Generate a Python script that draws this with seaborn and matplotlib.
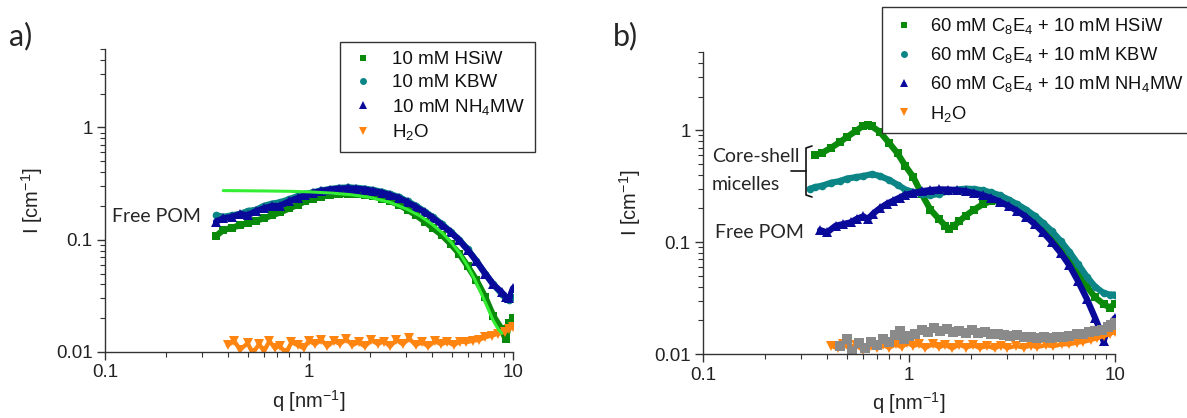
import numpy as np
import pandas as pd
import matplotlib
matplotlib.use("Agg")
import matplotlib.pyplot as plt
from matplotlib.lines import Line2D
import seaborn as sns

# ---------------- data ----------------
# Panel a
qa = [0.35, 0.38, 0.42, 0.46, 0.5, 0.55, 0.6, 0.66, 0.72, 0.8, 0.88, 0.96, 1.05, 1.15,
      1.27, 1.4, 1.55, 1.7, 1.88, 2.07, 2.28, 2.5, 2.76, 3.04, 3.35, 3.7, 4.07, 4.48,
      4.94, 5.45, 6.0, 6.6, 7.3, 8.0, 8.8, 9.2, 9.6, 10.0]
a_hsiw = [0.108, 0.122, 0.128, 0.135, 0.14, 0.148, 0.155, 0.165, 0.175, 0.19, 0.205, 0.22,
          0.232, 0.242, 0.25, 0.254, 0.256, 0.255, 0.25, 0.243, 0.232, 0.22, 0.205, 0.185,
          0.165, 0.145, 0.126, 0.11, 0.092, 0.075, 0.058, 0.044, 0.031, 0.021, 0.016,
          0.013, 0.018, 0.02]
a_kbw = [0.165, 0.16, 0.165, 0.17, 0.18, 0.185, 0.2, 0.21, 0.215, 0.23, 0.245, 0.255,
         0.265, 0.275, 0.283, 0.29, 0.292, 0.29, 0.285, 0.277, 0.267, 0.255, 0.24, 0.22,
         0.2, 0.178, 0.158, 0.138, 0.118, 0.1, 0.082, 0.065, 0.05, 0.04, 0.033, 0.03,
         0.029, 0.031]
a_nh4mw = [0.145, 0.155, 0.16, 0.17, 0.165, 0.18, 0.19, 0.2, 0.2, 0.22, 0.235, 0.25,
           0.262, 0.272, 0.28, 0.285, 0.287, 0.285, 0.28, 0.272, 0.262, 0.25, 0.235,
           0.215, 0.195, 0.175, 0.155, 0.135, 0.117, 0.099, 0.081, 0.065, 0.05, 0.04,
           0.034, 0.031, 0.03, 0.037]
qa_fit = [0.38, 0.6, 0.8, 1.0, 1.3, 1.6, 2.0, 2.5, 3.0, 3.5, 4.0, 4.5, 5.0, 5.5, 6.0, 6.5,
          7.0, 7.5, 8.0, 8.5, 8.8]
a_fit = [0.274, 0.272, 0.27, 0.267, 0.26, 0.252, 0.238, 0.215, 0.188, 0.163, 0.138, 0.115,
         0.094, 0.075, 0.058, 0.044, 0.033, 0.025, 0.019, 0.0158, 0.0147]
qa_h2o = [0.4, 0.43, 0.46, 0.5, 0.53, 0.57, 0.6, 0.64, 0.68, 0.72, 0.77, 0.82, 0.88, 0.94,
          1.0, 1.07, 1.15, 1.23, 1.32, 1.42, 1.52, 1.63, 1.75, 1.88, 2.02, 2.17, 2.33, 2.5,
          2.68, 2.88, 3.1, 3.33, 3.58, 3.85, 4.13, 4.44, 4.77, 5.13, 5.5, 5.9, 6.35, 6.8,
          7.3, 7.85, 8.45, 9.1, 9.6, 10.0]
a_h2o = [0.0115, 0.0125, 0.0105, 0.012, 0.0098, 0.0118, 0.0102, 0.0125, 0.0108, 0.0113,
         0.0098, 0.0122, 0.0115, 0.0108, 0.0126, 0.0117, 0.0128, 0.0112, 0.0125, 0.0118,
         0.013, 0.0115, 0.0122, 0.0112, 0.0127, 0.0118, 0.0124, 0.0112, 0.0128, 0.0117,
         0.0132, 0.0115, 0.0122, 0.0112, 0.0125, 0.0117, 0.0123, 0.0115, 0.0124, 0.0122,
         0.0126, 0.0128, 0.0135, 0.014, 0.0145, 0.0152, 0.016, 0.0168]

# Panel b
qb_hsiw = [0.35, 0.38, 0.42, 0.46, 0.5, 0.55, 0.6, 0.63, 0.66, 0.72, 0.8, 0.88, 0.96, 1.05,
           1.15, 1.27, 1.4, 1.5, 1.57, 1.65, 1.75, 1.88, 2.07, 2.28, 2.5, 2.76, 3.04, 3.35,
           3.7, 4.07, 4.48, 4.94, 5.45, 6.0, 6.6, 7.3, 8.0, 8.8, 9.4, 10.0]
b_hsiw = [0.6, 0.63, 0.7, 0.78, 0.87, 0.98, 1.1, 1.12, 1.08, 0.97, 0.77, 0.62, 0.48, 0.38,
          0.27, 0.195, 0.16, 0.14, 0.132, 0.14, 0.153, 0.172, 0.195, 0.218, 0.232, 0.232,
          0.22, 0.2, 0.18, 0.158, 0.135, 0.11, 0.088, 0.068, 0.052, 0.04, 0.032, 0.028,
          0.026, 0.028]
qb_kbw = [0.33, 0.35, 0.38, 0.42, 0.46, 0.5, 0.55, 0.6, 0.66, 0.72, 0.8, 0.88, 0.96, 1.05,
          1.15, 1.27, 1.4, 1.55, 1.7, 1.88, 2.07, 2.28, 2.5, 2.76, 3.04, 3.35, 3.7, 4.07,
          4.48, 4.94, 5.45, 6.0, 6.6, 7.3, 8.0, 8.8, 9.4, 10.0]
b_kbw = [0.3, 0.31, 0.32, 0.34, 0.35, 0.37, 0.38, 0.39, 0.405, 0.39, 0.36, 0.325, 0.295,
         0.28, 0.27, 0.262, 0.27, 0.285, 0.295, 0.3, 0.298, 0.29, 0.278, 0.262, 0.24, 0.218,
         0.195, 0.172, 0.148, 0.125, 0.102, 0.082, 0.064, 0.049, 0.04, 0.035, 0.034, 0.034]
qb_nh4mw = [0.37, 0.4, 0.44, 0.48, 0.52, 0.56, 0.6, 0.63, 0.67, 0.72, 0.78, 0.84, 0.9, 0.96,
            1.05, 1.15, 1.27, 1.4, 1.55, 1.7, 1.88, 2.07, 2.28, 2.5, 2.76, 3.04, 3.35, 3.7,
            4.07, 4.48, 4.94, 5.45, 6.0, 6.6, 7.3, 8.0, 8.5, 8.8, 9.2, 9.6, 10.0]
b_nh4mw = [0.128, 0.122, 0.14, 0.145, 0.15, 0.162, 0.17, 0.16, 0.18, 0.2, 0.22, 0.235, 0.25,
           0.265, 0.275, 0.285, 0.292, 0.296, 0.295, 0.292, 0.285, 0.275, 0.262, 0.248,
           0.23, 0.21, 0.19, 0.168, 0.145, 0.122, 0.1, 0.08, 0.062, 0.045, 0.031, 0.021,
           0.016, 0.013, 0.017, 0.019, 0.021]
qb_gray = [0.46, 0.5, 0.53, 0.57, 0.61, 0.65, 0.7, 0.75, 0.8, 0.85, 0.9, 0.95, 1.0, 1.07,
           1.15, 1.23, 1.32, 1.42, 1.52, 1.63, 1.75, 1.88, 2.02, 2.17, 2.33, 2.5, 2.7, 2.9,
           3.1, 3.35, 3.6, 3.9, 4.2, 4.5, 4.85, 5.2, 5.6, 6.0, 6.5, 7.0, 7.5, 8.0, 8.6, 9.2,
           9.6, 10.0]
b_gray = [0.0118, 0.0135, 0.0105, 0.0125, 0.0112, 0.0128, 0.012, 0.0135, 0.0128, 0.0148,
          0.016, 0.0135, 0.0145, 0.015, 0.0165, 0.0158, 0.0172, 0.0162, 0.0168, 0.0158,
          0.0162, 0.0155, 0.0165, 0.0155, 0.0158, 0.015, 0.0152, 0.0148, 0.0145, 0.0148,
          0.0142, 0.0143, 0.014, 0.0142, 0.014, 0.0143, 0.0142, 0.0145, 0.015, 0.0152,
          0.0158, 0.016, 0.0165, 0.0175, 0.018, 0.0188]
qb_h2o = [0.42, 0.45, 0.48, 0.52, 0.55, 0.6, 0.65, 0.7, 0.75, 0.8, 0.86, 0.92, 0.98, 1.05,
          1.12, 1.2, 1.3, 1.4, 1.5, 1.62, 1.75, 1.9, 2.05, 2.2, 2.4, 2.6, 2.8, 3.0, 3.3, 3.6,
          3.9, 4.2, 4.6, 5.0, 5.5, 6.0, 6.5, 7.0, 7.6, 8.2, 8.8, 9.4, 10.0]
b_h2o = [0.0118, 0.0112, 0.0122, 0.011, 0.012, 0.0108, 0.0118, 0.0112, 0.012, 0.0113,
         0.0122, 0.0115, 0.0125, 0.0118, 0.0122, 0.0113, 0.0122, 0.0115, 0.012, 0.0112,
         0.0121, 0.0114, 0.012, 0.0113, 0.0118, 0.0112, 0.0119, 0.0113, 0.0118, 0.0114,
         0.0119, 0.0115, 0.012, 0.0117, 0.0122, 0.0122, 0.0126, 0.0128, 0.0133, 0.0138,
         0.0145, 0.015, 0.0158]

labels_a = ["10 mM HSiW", "10 mM KBW", r"10 mM NH$_4$MW", r"H$_2$O"]
labels_b = [r"60 mM C$_8$E$_4$ + 10 mM HSiW", r"60 mM C$_8$E$_4$ + 10 mM KBW",
            r"60 mM C$_8$E$_4$ + 10 mM NH$_4$MW", r"H$_2$O"]
xticks = [0.1, 1, 10]
xtick_labels = ["0.1", "1", "10"]
yticks = [0.01, 0.1, 1]
ytick_labels = ["0.01", "0.1", "1"]

# ---------------- style ----------------
sns.set_theme(style="white")
plt.rcParams["font.family"] = ["Liberation Sans", "DejaVu Sans"]
plt.rcParams["mathtext.fontset"] = "custom"
plt.rcParams["mathtext.rm"] = "Liberation Sans"
plt.rcParams["mathtext.it"] = "Liberation Sans:italic"
plt.rcParams["mathtext.default"] = "regular"

GREEN = "#0a8a0a"
TEAL = "#0b8585"
BLUE = "#0a0a9a"
ORANGE = "#ff8410"
GRAY = "#8a8a8a"
LIME = "#33ee33"
SPINE = "#333333"

fig = plt.figure(figsize=(11.87, 4.18), dpi=100)
ax_a = fig.add_axes([0.0885, 0.1579, 0.3437, 0.7249])
ax_b = fig.add_axes([0.5923, 0.1531, 0.3471, 0.7225])


def series(ax, q, v, color, marker, ms=5.5, lw=4.5):
    df = pd.DataFrame({"q": q, "I": v})
    sns.lineplot(data=df, x="q", y="I", ax=ax, color=color, marker=marker, markersize=ms,
                 markeredgewidth=0, linewidth=lw, sort=False, estimator=None, legend=False)


def style_axes(ax):
    ax.set_xscale("log")
    ax.set_yscale("log")
    ax.set_xlim(0.1, 10)
    ax.set_ylim(0.01, 5)
    for s in ["top", "right"]:
        ax.spines[s].set_visible(False)
    for s in ["left", "bottom"]:
        ax.spines[s].set_color(SPINE)
        ax.spines[s].set_linewidth(1.0)
    ax.set_xticks(xticks)
    ax.set_xticklabels(xtick_labels)
    ax.set_yticks(yticks)
    ax.set_yticklabels(ytick_labels)
    ax.tick_params(which="major", direction="out", length=6, width=1, color=SPINE,
                   labelsize=13.5, labelcolor="#222222", pad=3, left=True, bottom=True)
    ax.tick_params(which="minor", direction="out", length=3.5, width=0.8, color=SPINE,
                   left=True, bottom=True)
    ax.set_xlabel(r"q [nm$^{-1}$]", fontsize=14.5, color="#222222", labelpad=5)
    ax.set_ylabel(r"I [cm$^{-1}$]", fontsize=14.5, color="#222222", labelpad=8)
    ax.grid(False)
    ax.set_facecolor("white")


# panel a
series(ax_a, qa, a_hsiw, GREEN, "s")
series(ax_a, qa, a_kbw, TEAL, "o")
series(ax_a, qa, a_nh4mw, BLUE, "^", ms=6.5)
series(ax_a, qa_h2o, a_h2o, ORANGE, "v", ms=7, lw=3.0)
sns.lineplot(x=qa_fit, y=a_fit, ax=ax_a, color=LIME, linewidth=2.2, sort=False,
             estimator=None, legend=False)
style_axes(ax_a)

# panel b
series(ax_b, qb_hsiw, b_hsiw, GREEN, "s")
series(ax_b, qb_kbw, b_kbw, TEAL, "o")
series(ax_b, qb_nh4mw, b_nh4mw, BLUE, "^", ms=6.5)
series(ax_b, qb_h2o, b_h2o, ORANGE, "v", ms=7, lw=3.0)
series(ax_b, qb_gray, b_gray, GRAY, "s", ms=6.5, lw=3.5)
style_axes(ax_b)


def handles():
    return [Line2D([], [], ls="none", marker="s", color=GREEN, markersize=5, markeredgewidth=0),
            Line2D([], [], ls="none", marker="o", color=TEAL, markersize=5, markeredgewidth=0),
            Line2D([], [], ls="none", marker="^", color=BLUE, markersize=6, markeredgewidth=0),
            Line2D([], [], ls="none", marker="v", color=ORANGE, markersize=6, markeredgewidth=0)]


leg_kw = dict(frameon=True, fancybox=False, handlelength=1.4, borderpad=0.5,
              borderaxespad=0, loc="upper left", bbox_transform=fig.transFigure)
la = ax_a.legend(handles(), labels_a, bbox_to_anchor=(340 / 1187, 1 - 42 / 418),
                 labelspacing=0.3, fontsize=13.5, handletextpad=0.9, **leg_kw)
lb = ax_b.legend(handles(), labels_b, bbox_to_anchor=(882 / 1187, 1 - 7 / 418),
                 labelspacing=0.5, fontsize=13.2, handletextpad=0.7, **leg_kw)
for lg in (la, lb):
    fr = lg.get_frame()
    fr.set_edgecolor("#333333")
    fr.set_linewidth(1.0)
    fr.set_alpha(1)
    for t in lg.get_texts():
        t.set_color("#111111")

# annotations
fam2 = ["Lato", "DejaVu Sans"]
fig.text(9 / 1187, 1 - 36 / 418, "a)", fontsize=22, family=fam2, va="center", ha="left")
fig.text(613 / 1187, 1 - 36 / 418, "b)", fontsize=22, family=fam2, va="center", ha="left")
fig.text(112 / 1187, 1 - 217 / 418, "Free POM", fontsize=14, family=fam2, va="center", ha="left")
fig.text(712 / 1187, 1 - 157 / 418, "Core-shell", fontsize=14, family=fam2, va="center", ha="left")
fig.text(712 / 1187, 1 - 185 / 418, "micelles", fontsize=14, family=fam2, va="center", ha="left")
fig.text(715 / 1187, 1 - 232 / 418, "Free POM", fontsize=14, family=fam2, va="center", ha="left")


def fx(px):
    return px / 1187


def fy(py):
    return 1 - py / 418


bk = dict(color="#111111", linewidth=1.2, transform=fig.transFigure)
fig.add_artist(Line2D([fx(812), fx(806), fx(806), fx(812)],
                      [fy(146), fy(148), fy(195), fy(197)], **bk))
fig.add_artist(Line2D([fx(791), fx(806)], [fy(171), fy(171)], **bk))

fig.savefig("out.png", dpi=100, facecolor="white")
